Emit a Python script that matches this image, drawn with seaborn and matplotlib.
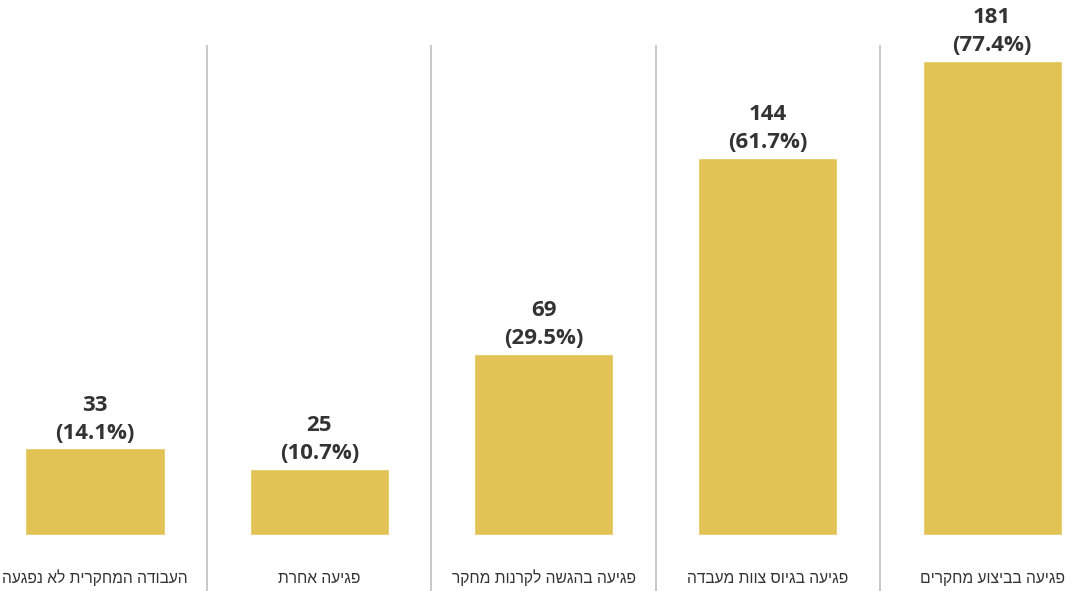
import matplotlib
matplotlib.use("Agg")
import matplotlib.pyplot as plt
import seaborn as sns
import pandas as pd

categories = ["העבודה המחקרית לא נפגעה", "פגיעה אחרת", "פגיעה בהגשה לקרנות מחקר",
              "פגיעה בגיוס צוות מעבדה", "פגיעה בביצוע מחקרים"]
counts = [33, 25, 69, 144, 181]
percents = [14.1, 10.7, 29.5, 61.7, 77.4]

sns.set_theme(style="white")
plt.rcParams['font.family'] = ['Open Sans', 'DejaVu Sans']

# matplotlib draws left-to-right, so reverse Hebrew strings for display
disp = [c[::-1] for c in categories]
df = pd.DataFrame({"cat": disp, "count": counts})

fig = plt.figure(figsize=(10.71, 5.91), dpi=100)
ax = fig.add_axes([0, 0, 1, 1])
sns.barplot(data=df, x="cat", y="count", color="#E1C355", saturation=1,
            width=0.62, ax=ax)

ax.set_xlim(-0.4236, 4.352)
ax.set_ylim(-21.4, 204.2)
for s in ax.spines.values():
    s.set_visible(False)
ax.set_xticks([])
ax.set_yticks([])
ax.set_xlabel("")
ax.set_ylabel("")

for i in range(len(categories) - 1):
    ax.vlines(i + 0.5, -21.4, 187, color="#c8c8c8", linewidth=1.4)

label_family = ['Liberation Sans Narrow', 'Liberation Sans', 'DejaVu Sans']
labels = []
for i, (c, p) in enumerate(zip(counts, percents)):
    ax.text(i, c + 5.9, f"({p}%)", ha="center", va="center", fontsize=16,
            fontweight="bold", color="#333333")
    ax.text(i, c + 16.6, f"{c}", ha="center", va="center", fontsize=16,
            fontweight="bold", color="#333333")
    labels.append(ax.text(i, -16.5, disp[i], ha="center", va="center", fontsize=13,
                          color="#333333", family=label_family))

# fit label fonts so the widest label stays inside the figure
fig.canvas.draw()
r = fig.canvas.get_renderer()
w = labels[0].get_window_extent(r).width
scale = 186.0 / w
for t in labels:
    t.set_fontsize(13 * scale)

fig.savefig("out.png", dpi=100)
